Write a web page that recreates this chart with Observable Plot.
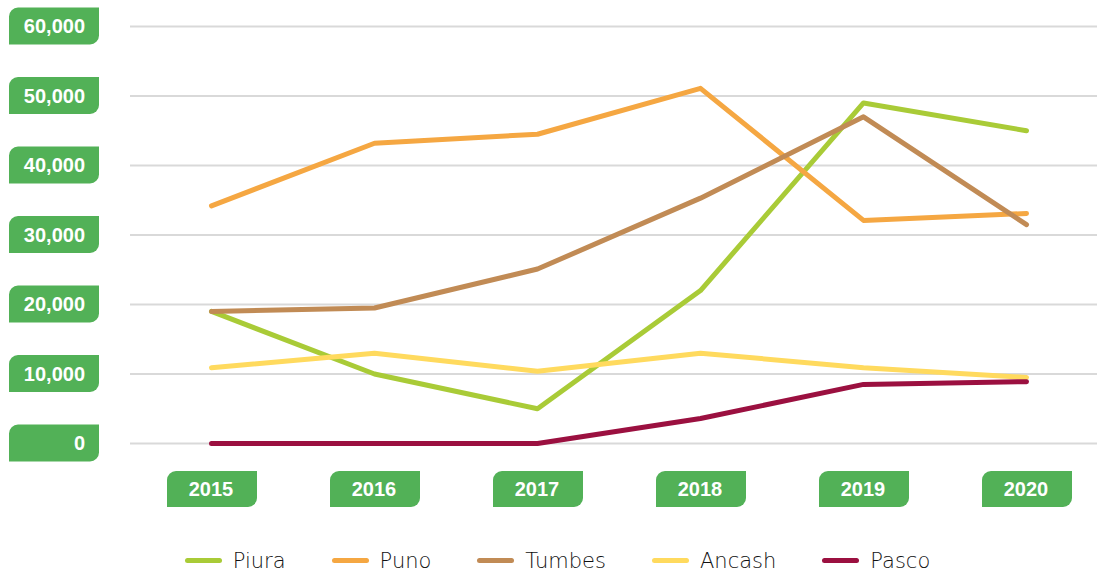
<!DOCTYPE html>
<html>
<head>
<meta charset="utf-8">
<script src="https://cdn.jsdelivr.net/npm/d3@7"></script>
<script src="https://cdn.jsdelivr.net/npm/@observablehq/plot@0.6"></script>
<style>
  html, body { margin: 0; padding: 0; background: #fff; }
  #chart { width: 1097px; }
  #legend {
    display: flex; justify-content: center; align-items: center;
    height: 41px; padding-left: 18px; box-sizing: border-box; width: 1097px;
    font-family: "DejaVu Sans", sans-serif; font-weight: 200; font-size: 21px; color: #111;
  }
  .item { display: flex; align-items: center; margin: 0 23px; }
  .sw { width: 37px; height: 5px; border-radius: 3px; margin-right: 11px; }
</style>
</head>
<body>
<div id="chart"></div>
<div id="legend"></div>
<script>
const years  = ["2015", "2016", "2017", "2018", "2019", "2020"];
const series = ["Piura", "Puno", "Tumbes", "Ancash", "Pasco"];
const colors = ["#A9CB37", "#F5A742", "#C18B55", "#FFDA5E", "#9B1040"];
const piura  = [19000, 10000, 5000, 22000, 49000, 45000];
const puno   = [34200, 43200, 44500, 51100, 32100, 33100];
const tumbes = [19000, 19500, 25100, 35300, 47000, 31500];
const ancash = [10900, 13000, 10400, 13000, 10900, 9500];
const pasco  = [0, 0, 0, 3600, 8500, 8900];
const yTicks = [0, 10000, 20000, 30000, 40000, 50000, 60000];

const values = [piura, puno, tumbes, ancash, pasco];
const data = [];
series.forEach((s, k) => years.forEach((y, i) => data.push({series: s, year: y, value: values[k][i]})));

const green = "#52B157";
const fmt = d3.format(",");

function leaf(x, y, w, h, r) {
  return `M${x + r},${y}H${x + w}V${y + h - r}A${r},${r} 0 0 1 ${x + w - r},${y + h}H${x}V${y + r}A${r},${r} 0 0 1 ${x + r},${y}Z`;
}

const yLabels = Plot.text(yTicks, {
  y: d => d, text: d => fmt(d),
  render: (index, scales, vals, dims) => {
    const g = d3.create("svg:g");
    for (const i of index) {
      const cy = vals.y[i];
      g.append("path").attr("d", leaf(9, cy - 18.5, 90, 37, 9)).attr("fill", green);
      g.append("text").attr("x", 85).attr("y", cy).attr("dy", "0.36em")
        .attr("text-anchor", "end").attr("fill", "#fff")
        .attr("font-family", "'Liberation Sans', Arial, sans-serif")
        .attr("font-weight", "bold").attr("font-size", 20)
        .text(fmt(yTicks[i]));
    }
    return g.node();
  }
});

const xLabels = Plot.text(years, {
  x: d => d, text: d => d,
  render: (index, scales, vals, dims) => {
    const g = d3.create("svg:g");
    const cy = dims.height - dims.marginBottom + 46;
    for (const i of index) {
      const cx = vals.x[i];
      g.append("path").attr("d", leaf(cx - 44, cy - 18, 90, 36, 9)).attr("fill", green);
      g.append("text").attr("x", cx).attr("y", cy).attr("dy", "0.36em")
        .attr("text-anchor", "middle").attr("fill", "#fff")
        .attr("font-family", "'Liberation Sans', Arial, sans-serif")
        .attr("font-weight", "bold").attr("font-size", 20)
        .text(years[i]);
    }
    return g.node();
  }
});

const chart = Plot.plot({
  width: 1097,
  height: 540,
  marginLeft: 130,
  marginRight: 0,
  marginTop: 26,
  marginBottom: 97,
  x: {type: "point", domain: years, padding: 0, insetLeft: 80, insetRight: 70, axis: null},
  y: {domain: [0, 60000], axis: null},
  color: {domain: series, range: colors},
  marks: [
    Plot.ruleY(yTicks, {stroke: "#d9d9d9", strokeWidth: 2}),
    Plot.line(data, {x: "year", y: "value", z: "series", stroke: "series", strokeWidth: 5, strokeLinecap: "round", strokeLinejoin: "round"}),
    yLabels,
    xLabels
  ]
});
document.getElementById("chart").appendChild(chart);

const legend = d3.select("#legend");
series.forEach((s, k) => {
  const it = legend.append("div").attr("class", "item");
  it.append("div").attr("class", "sw").style("background", colors[k]);
  it.append("span").text(s);
});
</script>
</body>
</html>
